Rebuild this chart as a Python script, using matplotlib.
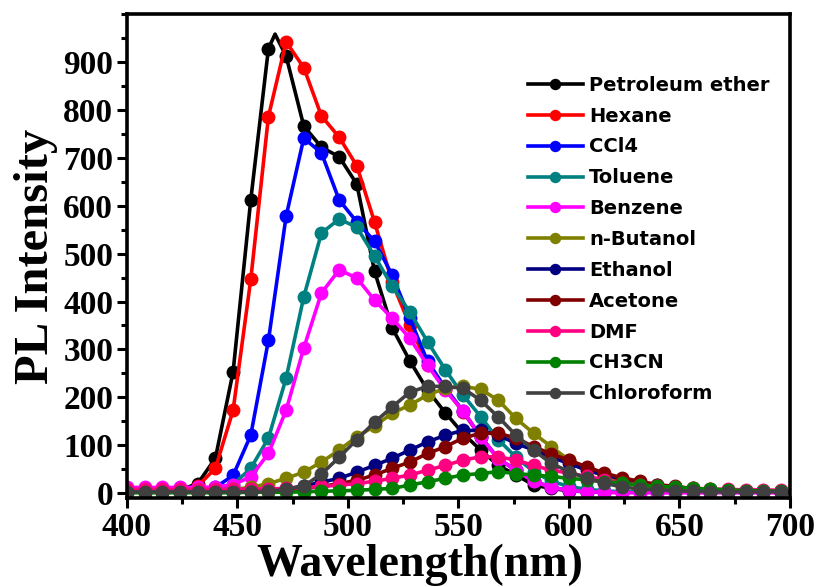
import matplotlib
matplotlib.use("Agg")
import matplotlib.pyplot as plt
from matplotlib.ticker import MultipleLocator

# marker positions (nm)
wavelength = [400, 408, 416, 424, 432, 440, 448, 456, 464, 472, 480, 488, 496,
              504, 512, 520, 528, 536, 544, 552, 560, 568, 576, 584, 592, 600,
              608, 616, 624, 632, 640, 648, 656, 664, 672, 680, 688, 696]

petroleum_ether = [5, 5, 5, 7, 20, 73, 253, 612, 928, 912, 766, 722, 702, 645, 463, 345, 276, 215,
                   168, 125, 90, 58, 38, 17, 10, 5, 3, 2, 2, 2, 2, 2, 2, 2, 2, 2, 2, 2]
# sharp tip between two markers
petroleum_peak = (467, 958)
hexane = [5, 5, 5, 6, 15, 52, 173, 446, 786, 942, 888, 787, 743, 683, 566, 440, 350, 268,
          218, 170, 118, 72, 48, 25, 12, 6, 3, 2, 2, 2, 2, 2, 2, 2, 2, 2, 2, 2]
ccl4 = [5, 5, 5, 5, 8, 12, 37, 121, 319, 578, 741, 710, 612, 566, 526, 455, 365, 275,
        220, 172, 118, 72, 48, 25, 12, 6, 3, 2, 2, 2, 2, 2, 2, 2, 2, 2, 2, 2]
toluene = [5, 5, 5, 5, 5, 8, 18, 52, 115, 240, 410, 543, 572, 555, 495, 432, 378, 316,
           258, 205, 160, 112, 75, 45, 25, 14, 8, 5, 3, 3, 3, 3, 3, 3, 3, 3, 3, 3]
benzene = [12, 12, 12, 12, 12, 13, 18, 34, 83, 173, 303, 418, 466, 449, 403, 365, 323, 267,
           215, 172, 118, 72, 48, 25, 12, 6, 3, 2, 1, 1, 1, 1, 1, 1, 1, 1, 1, 1]
n_butanol = [5, 5, 5, 5, 5, 6, 8, 12, 20, 31, 44, 65, 90, 118, 140, 167, 184, 205, 219, 223,
             217, 194, 156, 125, 97, 69, 52, 34, 24, 17, 12, 10, 8, 6, 5, 5, 5, 5]
ethanol = [3, 3, 3, 3, 3, 3, 3, 4, 6, 9, 15, 23, 31, 44, 58, 73, 90, 107, 121, 131, 131,
           121, 104, 90, 75, 62, 48, 38, 30, 22, 17, 12, 9, 7, 5, 4, 4, 4]
acetone = [3, 3, 3, 3, 3, 3, 3, 4, 5, 7, 10, 14, 20, 27, 38, 52, 65, 83, 97, 115, 125, 125,
           115, 97, 82, 69, 55, 42, 32, 25, 18, 14, 10, 8, 6, 5, 5, 5]
dmf = [8, 8, 8, 8, 8, 8, 8, 9, 9, 10, 12, 14, 17, 20, 25, 31, 38, 48, 58, 69, 76, 76, 69,
       58, 48, 42, 35, 28, 22, 18, 14, 12, 10, 9, 8, 7, 7, 6]
ch3cn = [1, 1, 1, 1, 1, 1, 1, 2, 2, 2, 3, 4, 5, 6, 8, 10, 17, 24, 31, 38, 41, 45, 41, 38,
         35, 31, 28, 24, 21, 17, 14, 13, 10, 8, 7, 5, 5, 4]
chloroform = [3, 3, 3, 3, 3, 3, 3, 3, 4, 8, 15, 40, 75, 112, 148, 180, 211, 223, 223, 219,
              194, 159, 121, 90, 62, 45, 31, 21, 13, 9, 7, 5, 4, 3, 3, 3, 3, 3]

labels = ["Petroleum ether", "Hexane", "CCl4", "Toluene", "Benzene", "n-Butanol",
          "Ethanol", "Acetone", "DMF", "CH3CN", "Chloroform"]
series = [petroleum_ether, hexane, ccl4, toluene, benzene, n_butanol,
          ethanol, acetone, dmf, ch3cn, chloroform]
colors = ["#000000", "#FF0000", "#0000FF", "#008080", "#FF00FF", "#808000",
          "#000080", "#800000", "#FF0080", "#008000", "#404040"]

fig = plt.figure(figsize=(8.18, 5.87), dpi=100)
ax = fig.add_axes([127 / 818, 1 - 498 / 587, (790 - 127) / 818, (498 - 14) / 587])

for name, values, color in zip(labels, series, colors):
    xs = list(wavelength)
    ys = list(values)
    marks = list(range(len(xs)))
    if name == "Petroleum ether":
        pos = next(i for i, w in enumerate(xs) if w > petroleum_peak[0])
        xs.insert(pos, petroleum_peak[0])
        ys.insert(pos, petroleum_peak[1])
        marks = [i for i in range(len(xs)) if i != pos]
    ax.plot(xs, ys, "-o", color=color, lw=2.6, ms=9, markevery=marks,
            label=name, solid_joinstyle="round")

ax.set_xlim(400, 700)
ax.set_ylim(-10, 1000)
ax.xaxis.set_major_locator(MultipleLocator(50))
ax.xaxis.set_minor_locator(MultipleLocator(25))
ax.yaxis.set_major_locator(MultipleLocator(100))
ax.yaxis.set_minor_locator(MultipleLocator(50))
ax.set_yticks(range(0, 1000, 100))

serif = {"family": "Liberation Serif", "weight": "bold"}
ax.tick_params(which="both", direction="out", width=2.2, top=False, right=False)
ax.tick_params(which="major", length=7, pad=3)
ax.tick_params(which="minor", length=4)
for lab in ax.get_xticklabels() + ax.get_yticklabels():
    lab.set_fontfamily("Liberation Serif")
    lab.set_fontweight("bold")
    lab.set_fontsize(24)
for sp in ax.spines.values():
    sp.set_linewidth(2.6)

ax.set_xlabel("Wavelength(nm)", fontsize=33, **serif)
ax.xaxis.set_label_coords((420 - 127) / 663, -(576 - 498) / 484)
ax.xaxis.label.set_va("baseline")
ax.set_ylabel("PL Intensity", fontsize=35, labelpad=4, **serif)

leg = ax.legend(loc="upper left", bbox_to_anchor=(518 / 818, 1 - 66 / 587),
                bbox_transform=fig.transFigure, frameon=False, borderpad=0,
                handlelength=2.85, handletextpad=0.3, labelspacing=0.61,
                markerscale=0.8, prop={"family": "DejaVu Sans", "weight": "bold", "size": 14})

fig.savefig("out.png", dpi=100)
